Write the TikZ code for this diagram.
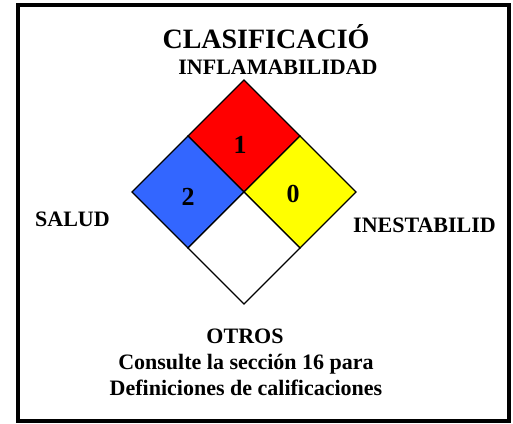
\documentclass[tikz,border=0pt]{standalone}
\usepackage{fontspec}
\setmainfont{Liberation Serif}
\definecolor{salud}{RGB}{51,102,255}
\definecolor{fuego}{RGB}{255,0,0}
\definecolor{reactivo}{RGB}{255,255,0}
\begin{document}
\begin{tikzpicture}[x=1pt,y=-1pt]
  \tikzstyle{every node}=[inner sep=0pt,font=\bfseries]
  \tikzstyle{titulo}=[anchor=base,font=\bfseries\fontsize{28}{30}\selectfont]
  \tikzstyle{rotulo}=[anchor=base,font=\bfseries\fontsize{22}{24}\selectfont]
  \tikzstyle{cifra}=[anchor=base,font=\bfseries\fontsize{26}{28}\selectfont]
  \tikzstyle{casilla}=[draw=black,line width=1.2pt,line join=miter]
  \useasboundingbox (0,0) rectangle (513,423);
  \draw[line width=4pt] (18,5) rectangle (509,421);
  % rombo
  \coordinate (centro) at (244,192);
  \coordinate (arriba) at (244,80);
  \coordinate (izq) at (132,192);
  \coordinate (der) at (356,192);
  \coordinate (abajo) at (244,304);
  \coordinate (ai) at (188,136);
  \coordinate (ad) at (300,136);
  \coordinate (bi) at (188,248);
  \coordinate (bd) at (300,248);
  \filldraw[casilla,fill=fuego] (arriba) -- (ad) -- (centro) -- (ai) -- cycle;
  \filldraw[casilla,fill=salud] (ai) -- (centro) -- (bi) -- (izq) -- cycle;
  \filldraw[casilla,fill=reactivo] (ad) -- (der) -- (bd) -- (centro) -- cycle;
  \filldraw[casilla,fill=white] (centro) -- (bd) -- (abajo) -- (bi) -- cycle;
  \node[cifra] (inf) at (240,153) {1};
  \node[cifra] (sal) at (188,205) {2};
  \node[cifra] (ine) at (293,202) {0};
  % textos
  \node[titulo] (clas) at (266,48) {CLASIFICACIÓ};
  \node[rotulo] (infl) at (278,74) {INFLAMABILIDAD};
  \node[rotulo,anchor=base west] (salud) at (35,226) {SALUD};
  \node[rotulo,anchor=base west] (inest) at (353,232) {INESTABILID};
  \node[rotulo] (otros) at (245,343) {OTROS};
  \node[rotulo] (cons) at (246,369) {Consulte la sección 16 para};
  \node[rotulo] (defi) at (246,395) {Definiciones de calificaciones};
\end{tikzpicture}
\end{document}
